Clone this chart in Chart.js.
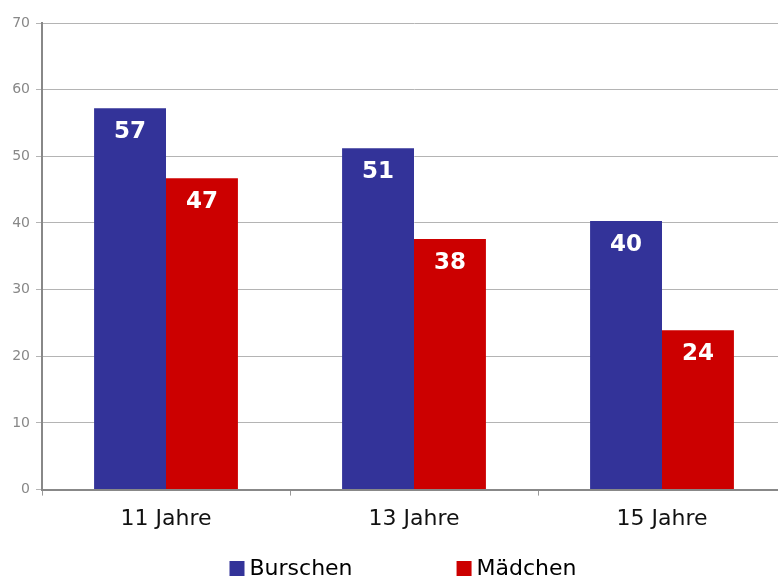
<!DOCTYPE html>
<html>
<head>
<meta charset="utf-8">
<script src="https://cdn.jsdelivr.net/npm/chart.js@4/dist/chart.umd.min.js"></script>
<style>
html,body{margin:0;padding:0;background:#fff;overflow:hidden;}
#wrap{width:778px;height:576px;overflow:hidden;position:relative;}
canvas{display:block;}
</style>
</head>
<body>
<div id="wrap"><canvas id="c" width="786" height="576"></canvas></div>
<script>
const categories = ['11 Jahre', '13 Jahre', '15 Jahre'];
const seriesNames = ['Burschen', 'Mädchen'];
const burschen = [57.2, 51.2, 40.3];
const maedchen = [46.7, 37.6, 23.9];
const burschenLabels = ['57', '51', '40'];
const maedchenLabels = ['47', '38', '24'];
const yTicks = [0, 10, 20, 30, 40, 50, 60, 70];

const colors = ['#333399', '#CC0000'];
const FONT = '"DejaVu Sans", Verdana, sans-serif';

const valueLabels = {
  id: 'valueLabels',
  afterDatasetsDraw(chart) {
    const ctx = chart.ctx;
    const lbls = [burschenLabels, maedchenLabels];
    ctx.save();
    ctx.fillStyle = '#ffffff';
    ctx.font = 'bold 23px ' + FONT;
    ctx.textAlign = 'center';
    ctx.textBaseline = 'middle';
    chart.data.datasets.forEach((ds, i) => {
      const meta = chart.getDatasetMeta(i);
      meta.data.forEach((bar, j) => {
        ctx.fillText(lbls[i][j], bar.x, bar.y + 24);
      });
    });
    ctx.restore();
  }
};

const customLegend = {
  id: 'customLegend',
  afterDraw(chart) {
    const ctx = chart.ctx;
    ctx.save();
    ctx.font = '22px ' + FONT;
    ctx.textBaseline = 'alphabetic';
    const box = 15, gap = 5, spacing = 104;
    const widths = seriesNames.map(n => ctx.measureText(n).width);
    const total = widths.reduce((a, w) => a + box + gap + w, 0) + spacing * (seriesNames.length - 1);
    let x = 403 - total / 2;
    const baseline = 575;
    seriesNames.forEach((n, i) => {
      ctx.fillStyle = colors[i];
      ctx.fillRect(x, baseline - 14, box, box);
      ctx.fillStyle = '#000';
      ctx.fillText(n, x + box + gap, baseline);
      x += box + gap + widths[i] + spacing;
    });
    ctx.restore();
  }
};

new Chart(document.getElementById('c'), {
  type: 'bar',
  data: {
    labels: categories,
    datasets: [
      { label: seriesNames[0], data: burschen, backgroundColor: colors[0], borderWidth: 0 },
      { label: seriesNames[1], data: maedchen, backgroundColor: colors[1], borderWidth: 0 }
    ]
  },
  options: {
    responsive: false,
    animation: false,
    devicePixelRatio: 1,
    layout: { padding: { top: 23, right: 0, bottom: 34, left: 0 } },
    plugins: { legend: { display: false }, tooltip: { enabled: false } },
    datasets: { bar: { categoryPercentage: 0.58, barPercentage: 1.0 } },
    scales: {
      x: {
        offset: true,
        grid: { display: true, drawOnChartArea: false, offset: true, tickLength: 6, color: '#999999', lineWidth: 1 },
        border: { display: true, color: '#888888', width: 2 },
        ticks: { color: '#111111', font: { family: FONT, size: 22 }, padding: 10 }
      },
      y: {
        min: 0, max: 70,
        afterFit(scale) { scale.width = 42; },
        afterBuildTicks(scale) { scale.ticks = yTicks.map(v => ({ value: v })); },
        grid: { color: '#b4b4b4', lineWidth: 1, tickLength: 6 },
        border: { display: true, color: '#888888', width: 2 },
        ticks: { color: '#888888', font: { family: FONT, size: 14 }, padding: 6, stepSize: 10 }
      }
    }
  },
  plugins: [valueLabels, customLegend]
});
</script>
</body>
</html>
